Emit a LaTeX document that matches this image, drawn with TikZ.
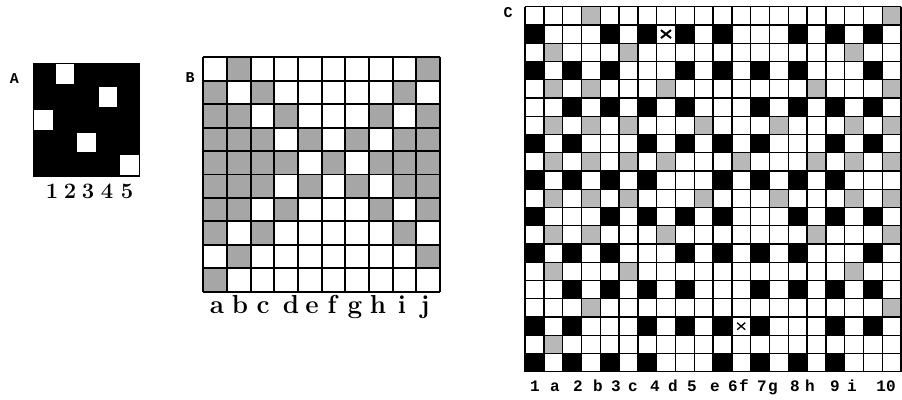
\documentclass[tikz,border=0pt]{standalone}
\usepackage{fontspec}
\newfontfamily\monofont{Liberation Mono}
\begin{document}
\begin{tikzpicture}[x=1pt,y=-1pt,
  gridline/.style={line width=1.8pt,black},
  cgridline/.style={line width=1.4pt,black},
  grayB/.style={fill=black!35},
  grayC/.style={fill=black!28},
  panellab/.style={font=\monofont\bfseries\fontsize{15}{15}\selectfont,anchor=base,inner sep=0pt},
  alab/.style={font=\fontsize{22}{22}\selectfont,anchor=base,inner sep=0pt},
  blab/.style={font=\bfseries\fontsize{26}{26}\selectfont,anchor=base,inner sep=0pt},
  clab/.style={font=\monofont\bfseries\fontsize{16}{16}\selectfont,anchor=base,inner sep=0pt},
  xmark/.style={line width=2pt,black}]
\useasboundingbox (0,0) rectangle (902,399);
\fill[white] (0,0) rectangle (902,399);

% ---------- Panel A ----------
\node[panellab] (labA) at (14.5,83) {A};
\fill[black] (32.5,62.7) rectangle (140,176.7);
\foreach \c/\r in {2/1,4/2,1/3,3/4,5/5}
  \fill[white] ({32.5+(\c-1)*21.5+1.5},{62.7+(\r-1)*22.8+1.5}) rectangle ++(18.5,19.8);
\foreach \t/\x in {1/52,2/70,3/88,4/107,5/127}
  \node[alab] (a\t) at (\x,198) {\textbf{\t}};

% ---------- Panel B ----------
\node[panellab] (labB) at (190,82) {B};
\foreach \r/\cl in {1/{2,10},2/{1,3,9},3/{1,2,4,8,10},4/{1,2,3,5,7,9,10},
                    5/{1,2,3,4,6,8,9,10},6/{1,2,3,5,7,9,10},7/{1,2,4,8,10},
                    8/{1,3,9},9/{2,10},10/{1}}
  \foreach \c in \cl
    \fill[grayB] ({203.3+(\c-1)*23.67},{57.3+(\r-1)*23.44}) rectangle ++(23.67,23.44);
\foreach \i in {0,...,10} {
  \draw[gridline] ({203.3+\i*23.67},57.3) -- ({203.3+\i*23.67},291.7);
  \draw[gridline] (203.3,{57.3+\i*23.44}) -- (440,{57.3+\i*23.44});
}
\foreach \t/\x in {a/217,b/240,c/263,d/291,e/312,f/332,g/355,h/378,i/402,j/425}
  \node[blab] (b\t) at (\x,313) {\t};

% ---------- Panel C ----------
\node[panellab] (labC) at (508,17) {C};
% gray cells (from B): C row 2r-1, col 2c
\foreach \r/\cl in {1/{2,10},2/{1,3,9},3/{1,2,4,8,10},4/{1,2,3,5,7,9,10},
                    5/{1,2,3,4,6,8,9,10},6/{1,2,3,5,7,9,10},7/{1,2,4,8,10},
                    8/{1,3,9},9/{2,10},10/{1}}
  \foreach \c in \cl
    \fill[grayC] ({525+(2*\c-1)*18.8},{6.7+(2*\r-2)*18.25}) rectangle ++(18.8,18.25);
% black cells (from A, repeated): C row 2r, col 2c-1
\foreach \r/\cl in {1/{1,3,4,5,6,8,9,10},2/{1,2,3,5,6,7,8,10},3/{2,3,4,5,7,8,9,10},
                    4/{1,2,4,5,6,7,9,10},5/{1,2,3,4,6,7,8,9}}
  \foreach \k in {0,5}
    \foreach \c in \cl
      \fill[black] ({525+(2*\c-2)*18.8},{6.7+(2*(\r+\k)-1)*18.25}) rectangle ++(18.8,18.25);
\foreach \i in {0,...,20} {
  \draw[cgridline] ({525+\i*18.8},6.7) -- ({525+\i*18.8},371.7);
  \draw[cgridline] (525,{6.7+\i*18.25}) -- (901,{6.7+\i*18.25});
}
% x marks
\coordinate (x1) at (666,34.1);
\coordinate (x2) at (741.2,326.2);
\draw[xmark] ([shift={(-5,-4)}]x1) -- ([shift={(5,4)}]x1);
\draw[xmark] ([shift={(-5,4)}]x1) -- ([shift={(5,-4)}]x1);
\draw[xmark,line width=1.3pt] ([shift={(-4,-3.5)}]x2) -- ([shift={(4,3.5)}]x2);
\draw[xmark,line width=1.3pt] ([shift={(-4,3.5)}]x2) -- ([shift={(4,-3.5)}]x2);
\foreach \n/\t/\x in {1/1/535,2/a/555,3/2/578,4/b/598,5/3/616,6/c/633,7/4/655,8/d/673,9/5/692,
                      10/e/715,11/6/733,12/f/744,13/7/762,14/g/773,15/8/795,16/h/810,
                      17/9/835,18/i/852,19/10/886}
  \node[clab] (c\n) at (\x,391.5) {\t};
\end{tikzpicture}
\end{document}
